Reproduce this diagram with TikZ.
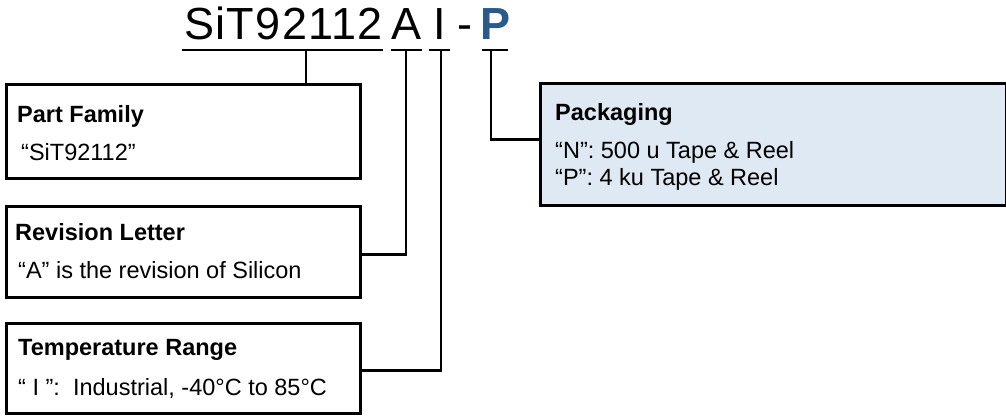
\documentclass[tikz,border=0pt]{standalone}
\usepackage{fontspec}
\setmainfont{Liberation Sans}
\usetikzlibrary{calc}
\definecolor{pkfill}{HTML}{DEE9F3}
\definecolor{pblue}{HTML}{2A5A8C}
\begin{document}
\begin{tikzpicture}[x=1pt,y=-1pt,
  box/.style={draw=black,line width=2.5pt,anchor=north west,inner sep=0pt},
  conn/.style={draw=black,line width=2.5pt},
  uline/.style={draw=black,line width=2pt},
  big/.style={anchor=base west,inner sep=0pt,font=\fontsize{45}{54}\selectfont},
  bighd/.style={anchor=base,inner sep=0pt,font=\fontsize{45}{54}\selectfont},
  hd/.style={anchor=base west,inner sep=0pt,font=\fontsize{23.5}{28}\selectfont\bfseries},
  tx/.style={anchor=base west,inner sep=0pt,font=\fontsize{23.5}{28}\selectfont}]
\useasboundingbox (0,0) rectangle (1006,415);
% title
\node[big] (title) at (184,39) {\addfontfeature{LetterSpace=3}SiT92112};
\node[bighd] (tA) at (407,39) {A};
\node[bighd] (tI) at (440,39) {I};
\node[bighd] (tdash) at (465,39) {-};
\node[bighd,text=pblue,font=\fontsize{45}{54}\selectfont\bfseries] (tP) at (495,39) {P};
% underlines
\coordinate (uS1) at (182,50); \coordinate (uS2) at (383,50);
\coordinate (uA1) at (391,50); \coordinate (uA2) at (422,50);
\coordinate (uI1) at (429,50); \coordinate (uI2) at (450,50);
\coordinate (uP1) at (482,50); \coordinate (uP2) at (508,50);
\draw[uline] (uS1) -- (uS2);
\draw[uline] (uA1) -- (uA2);
\draw[uline] (uI1) -- (uI2);
\draw[uline] (uP1) -- (uP2);
\coordinate (sS) at (306,50);
\coordinate (sA) at (406,50);
\coordinate (sI) at (441,50);
\coordinate (sP) at (491,50);
% boxes
\node[box,minimum width=354pt,minimum height=94pt] (pf) at (5,83) {};
\node[box,minimum width=354pt,minimum height=91pt] (rl) at (5,205) {};
\node[box,minimum width=354pt,minimum height=90pt] (tr) at (5,322) {};
\node[box,fill=pkfill,minimum width=466pt,minimum height=122pt] (pk) at (539,82) {};
% connectors
\draw[conn] (sS) -- (sS |- pf.north);
\draw[conn] (sA) |- ($(rl.east)+(0,2.5)$);
\draw[conn] (sI) |- ($(tr.east)+(0,2)$);
\draw[conn] (sP) |- ($(pk.west)+(0,-5)$);
% texts
\node[hd] (pfh) at (17,122) {Part Family};
\node[tx] (pft) at (21,160) {“SiT92112”};
\node[hd] (rlh) at (15,240) {Revision Letter};
\node[tx] (rlt) at (18,278) {“A” is the revision of Silicon};
\node[hd] (trh) at (18,355) {Temperature Range};
\node[tx] (trt) at (18,395) {“ I ”:\ \ Industrial, -40°C to 85°C};
\node[hd] (pkh) at (555,120) {Packaging};
\node[tx] (pk1) at (555,158) {“N”: 500 u Tape \& Reel};
\node[tx] (pk2) at (555,185) {“P”: 4 ku Tape \& Reel};
\end{tikzpicture}
\end{document}
